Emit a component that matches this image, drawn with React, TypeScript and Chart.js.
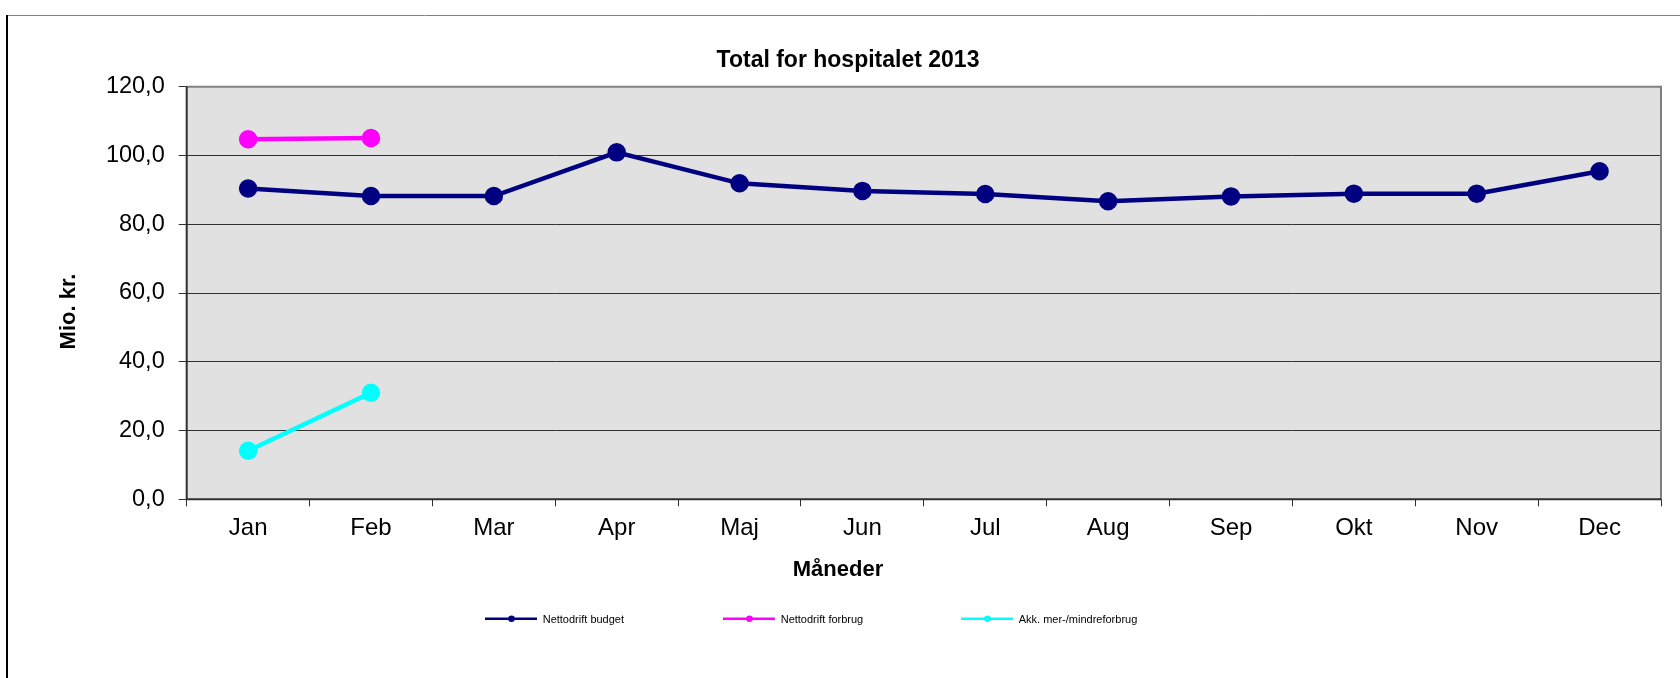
import React, { useEffect, useRef } from "react";
import { Chart, registerables } from "chart.js";

Chart.register(...registerables);

const months = ["Jan", "Feb", "Mar", "Apr", "Maj", "Jun", "Jul", "Aug", "Sep", "Okt", "Nov", "Dec"];
const nettodriftBudget = [90.4, 88.2, 88.2, 100.9, 91.9, 89.7, 88.8, 86.7, 88.1, 88.9, 88.9, 95.4];
const nettodriftForbrug = [104.7, 105.1, null, null, null, null, null, null, null, null, null, null];
const akkMerMindreforbrug = [14.1, 31.0, null, null, null, null, null, null, null, null, null, null];
const seriesNames = ["Nettodrift budget", "Nettodrift forbrug", "Akk. mer-/mindreforbrug"];
const seriesColors = ["#000080", "#FF00FF", "#00FFFF"];
const yMin = 0;
const yMax = 120;
const yStep = 20;
const chartTitle = "Total for hospitalet 2013";
const xTitle = "Måneder";
const yTitle = "Mio. kr.";

const FONT = "'Liberation Sans', Arial, Helvetica, sans-serif";

const decorPlugin = {
  id: "decor",
  beforeDraw(chart: any) {
    const { ctx, chartArea } = chart;
    ctx.save();
    ctx.fillStyle = "#ffffff";
    ctx.fillRect(0, 0, chart.width, chart.height);
    ctx.fillStyle = "#E1E1E1";
    ctx.fillRect(chartArea.left, chartArea.top, chartArea.right - chartArea.left, chartArea.bottom - chartArea.top);
    ctx.restore();
  },
  beforeDatasetsDraw(chart: any) {
    const { ctx, chartArea } = chart;
    ctx.save();
    ctx.strokeStyle = "#808080";
    ctx.lineWidth = 2;
    ctx.beginPath();
    ctx.moveTo(chartArea.left, chartArea.top);
    ctx.lineTo(chartArea.right, chartArea.top);
    ctx.lineTo(chartArea.right, chartArea.bottom);
    ctx.stroke();
    ctx.strokeStyle = "#303030";
    ctx.lineWidth = 2;
    ctx.beginPath();
    ctx.moveTo(chartArea.left, chartArea.top);
    ctx.lineTo(chartArea.left, chartArea.bottom);
    ctx.lineTo(chartArea.right, chartArea.bottom);
    ctx.stroke();
    ctx.restore();
  },
  afterDraw(chart: any) {
    const { ctx } = chart;
    ctx.save();
    ctx.strokeStyle = "#808080";
    ctx.lineWidth = 1;
    ctx.beginPath();
    ctx.moveTo(6, 15.5);
    ctx.lineTo(chart.width, 15.5);
    ctx.stroke();
    ctx.strokeStyle = "#000000";
    ctx.lineWidth = 2;
    ctx.beginPath();
    ctx.moveTo(7, 15);
    ctx.lineTo(7, chart.height);
    ctx.stroke();

    ctx.fillStyle = "#000000";
    ctx.font = `bold 23px ${FONT}`;
    ctx.textAlign = "center";
    ctx.textBaseline = "alphabetic";
    ctx.fillText(chartTitle, 848, 66.5);
    ctx.font = `bold 22px ${FONT}`;
    ctx.fillText(xTitle, 838, 576);
    ctx.save();
    ctx.translate(75, 311.5);
    ctx.rotate(-Math.PI / 2);
    ctx.fillText(yTitle, 0, 0);
    ctx.restore();

    const legendY = 618.7;
    chart.data.datasets.forEach((ds: any, i: number) => {
      const x0 = 485 + i * 238;
      ctx.strokeStyle = ds.borderColor;
      ctx.lineWidth = 2.5;
      ctx.beginPath();
      ctx.moveTo(x0, legendY);
      ctx.lineTo(x0 + 52, legendY);
      ctx.stroke();
      ctx.fillStyle = ds.borderColor;
      ctx.beginPath();
      ctx.arc(x0 + 26.5, legendY, 3.3, 0, Math.PI * 2);
      ctx.fill();
      ctx.fillStyle = "#000000";
      ctx.font = `11px ${FONT}`;
      ctx.textAlign = "left";
      ctx.textBaseline = "alphabetic";
      ctx.fillText(ds.label, x0 + 57.7, legendY + 4);
    });
    ctx.restore();
  },
};

export default function App() {
  const canvasRef = useRef<HTMLCanvasElement | null>(null);

  useEffect(() => {
    document.body.style.margin = "0";
    document.body.style.overflow = "hidden";
    const canvas = canvasRef.current;
    if (!canvas) return;
    const seriesData = [nettodriftBudget, nettodriftForbrug, akkMerMindreforbrug];
    const chart = new Chart(canvas, {
      type: "line",
      data: {
        labels: months,
        datasets: seriesData.map((d, i) => ({
          label: seriesNames[i],
          data: d,
          borderColor: seriesColors[i],
          backgroundColor: seriesColors[i],
          pointBackgroundColor: seriesColors[i],
          pointBorderColor: seriesColors[i],
          borderWidth: 4.5,
          pointRadius: 7,
          pointHoverRadius: 7,
          tension: 0,
          fill: false,
          spanGaps: false,
        })),
      },
      options: {
        responsive: false,
        animation: false,
        layout: { padding: { left: 0, top: 86.7, right: 19, bottom: 0 } },
        plugins: {
          legend: { display: false },
          title: { display: false },
          tooltip: { enabled: false },
        },
        scales: {
          x: {
            type: "category",
            offset: true,
            grid: {
              offset: true,
              drawOnChartArea: false,
              drawTicks: true,
              tickLength: 7,
              color: "#303030",
              lineWidth: 1,
            },
            border: { display: false },
            ticks: {
              color: "#000000",
              font: { family: FONT, size: 24 },
              padding: 8,
              maxRotation: 0,
              autoSkip: false,
            },
            afterFit(scale: any) {
              scale.height = 178.7;
            },
          },
          y: {
            min: yMin,
            max: yMax,
            grid: {
              color: "#303030",
              lineWidth: 1,
              drawTicks: true,
              tickLength: 8,
            },
            border: { display: false },
            ticks: {
              stepSize: yStep,
              color: "#000000",
              font: { family: FONT, size: 23.5 },
              padding: 14,
              callback: (v: any) => Number(v).toFixed(1).replace(".", ","),
            },
            afterFit(scale: any) {
              scale.width = 186.7;
            },
          },
        },
      },
      plugins: [decorPlugin],
    });
    return () => chart.destroy();
  }, []);

  return (
    <div style={{ width: 1680, height: 678 }}>
      <canvas ref={canvasRef} width={1680} height={678} style={{ display: "block" }} />
    </div>
  );
}
